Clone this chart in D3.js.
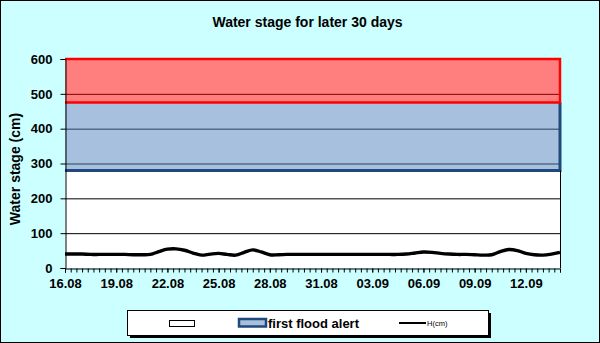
<!DOCTYPE html>
<html><head><meta charset="utf-8">
<script src="https://cdn.jsdelivr.net/npm/d3@7"></script>
<style>html,body{margin:0;padding:0;background:#fff;}svg{display:block;}</style>
</head><body>
<script>
// ---- data ----
const title = "Water stage for later 30 days";
const yTitle = "Water stage (cm)";
const xTickDays = [0, 3, 6, 9, 12, 15, 18, 21, 24, 27];
const xTickLabels = ["16.08","19.08","22.08","25.08","28.08","31.08","03.09","06.09","09.09","12.09"];
const yTicks = [0, 100, 200, 300, 400, 500, 600];
const bandNames = ["", "first flood alert", ""];
const bandLower = [0, 280, 475];
const bandUpper = [280, 475, 600];
const lineName = "H(cm)";
// water stage readings every half day from 16.08 00:00 to 14.09 00:00
const stage = [40,40,40,39,39,39,39,39,38,38,
               39,47,54,55,51,43,37,40,42,39,
               37,45,52,46,38,38,39,39,39,39,
               39,39,39,39,39,39,39,39,39,39,
               40,43,46,45,42,40,39,39,38,37,
               38,47,53,50,42,38,37,40,45];
const stepDays = 0.5;
const totalDays = 29;

// ---- layout ----
const W = 600, H = 343;
const L = 65, R = 560, T = 59, B = 268;
const font = "Arial, 'Liberation Sans', sans-serif";

const svg = d3.select("body").append("svg").attr("width", W).attr("height", H);
svg.append("rect").attr("x",0.5).attr("y",0.5).attr("width",W-1).attr("height",H-1)
  .attr("fill","#CCFFFF").attr("stroke","#000");

const x = d3.scaleLinear().domain([0, totalDays]).range([L, R]);
const y = d3.scaleLinear().domain([0, 600]).range([B, T]);

// plot area
svg.append("rect").attr("x",L).attr("y",T).attr("width",R-L).attr("height",B-T).attr("fill","#fff");

// gridlines
svg.append("g").selectAll("line").data(yTicks.filter(d=>d>0)).join("line")
  .attr("x1",L).attr("x2",R).attr("y1",d=>y(d)+0.5).attr("y2",d=>y(d)+0.5)
  .attr("stroke","#000").attr("stroke-width",1);

// bands (semi-transparent areas)
const bandFill = ["none", "#4F81BD", "#FF0000"];
const bandStroke = ["none", "#1F497D", "#FF0000"];
bandNames.forEach((n,i)=>{
  if (i===0) return;
  const pts = [0, totalDays];
  const area = d3.area().x(d=>x(d)).y0(y(bandLower[i])).y1(y(bandUpper[i]));
  svg.append("path").attr("d", area(pts)).attr("fill", bandFill[i]).attr("fill-opacity",0.5);
});
// blue border (bottom, right)
svg.append("path")
  .attr("d", `M${x(0)},${y(bandLower[1])}H${x(totalDays)}V${y(bandUpper[1])}`)
  .attr("fill","none").attr("stroke",bandStroke[1]).attr("stroke-width",3);
// red border
svg.append("path")
  .attr("d", `M${x(0)},${y(bandLower[2])}H${x(totalDays)}V${y(bandUpper[2])}H${x(0)}`)
  .attr("fill","none").attr("stroke",bandStroke[2]).attr("stroke-width",2.5);

// plot right border
svg.append("line").attr("x1",R+0.5).attr("x2",R+0.5).attr("y1",y(bandLower[1])).attr("y2",B)
  .attr("stroke","#000");

// water line
const line = d3.line().x((d,i)=>x(i*stepDays)).y(d=>y(d)).curve(d3.curveCatmullRom.alpha(0.5));
svg.append("path").attr("d", line(stage)).attr("fill","none").attr("stroke","#000")
  .attr("stroke-width",3.4).attr("stroke-linejoin","round");

// y axis
const yAxis = svg.append("g").attr("transform",`translate(${L+0.5},0)`)
  .call(d3.axisLeft(y).tickValues(yTicks).tickSize(5).tickPadding(8).tickFormat(d3.format("d")));
yAxis.select(".domain").attr("stroke","#000");
yAxis.selectAll("text").attr("font-family",font).attr("font-size",13).attr("font-weight","bold").attr("fill","#000");

// x axis
const minorTicks = d3.range(0, totalDays*3+1).map(i=>i/3);
const xMinor = svg.append("g").attr("transform",`translate(0,${B+0.5})`)
  .call(d3.axisBottom(x).tickValues(minorTicks).tickSize(4).tickFormat(""));
xMinor.select(".domain").attr("stroke","#000");
const xAxis = svg.append("g").attr("transform",`translate(0,${B+0.5})`)
  .call(d3.axisBottom(x).tickValues(xTickDays).tickSize(4).tickPadding(6)
    .tickFormat((d,i)=>xTickLabels[i]));
xAxis.select(".domain").remove();
xAxis.selectAll("text").attr("font-family",font).attr("font-size",13).attr("font-weight","bold").attr("fill","#000");

// titles
svg.append("text").attr("x",307.5).attr("y",27).attr("text-anchor","middle")
  .attr("font-family",font).attr("font-size",14).attr("font-weight","bold").text(title);
svg.append("text").attr("transform","translate(20,169) rotate(-90)").attr("text-anchor","middle")
  .attr("font-family",font).attr("font-size",14).attr("font-weight","bold").text(yTitle);

// legend
const lg = svg.append("g");
lg.append("rect").attr("x",130).attr("y",313).attr("width",361).attr("height",25).attr("fill","#000");
lg.append("rect").attr("x",127.5).attr("y",310.5).attr("width",361).attr("height",25)
  .attr("fill","#fff").attr("stroke","#000");
lg.append("rect").attr("x",169.5).attr("y",320.5).attr("width",25).attr("height",6)
  .attr("fill","#fff").attr("stroke","#000");
lg.append("rect").attr("x",239).attr("y",319).attr("width",27).attr("height",7.5)
  .attr("fill","#4F81BD").attr("fill-opacity",0.5).attr("stroke","#1F497D").attr("stroke-width",2.5);
lg.append("text").attr("x",268).attr("y",327.5).attr("font-family",font).attr("font-size",13)
  .attr("font-weight","bold").text(bandNames[1]);
lg.append("line").attr("x1",399).attr("x2",426).attr("y1",323).attr("y2",323)
  .attr("stroke","#000").attr("stroke-width",2);
lg.append("text").attr("x",427).attr("y",326).attr("font-family",font).attr("font-size",7.5)
  .text(lineName);
</script>
</body></html>
